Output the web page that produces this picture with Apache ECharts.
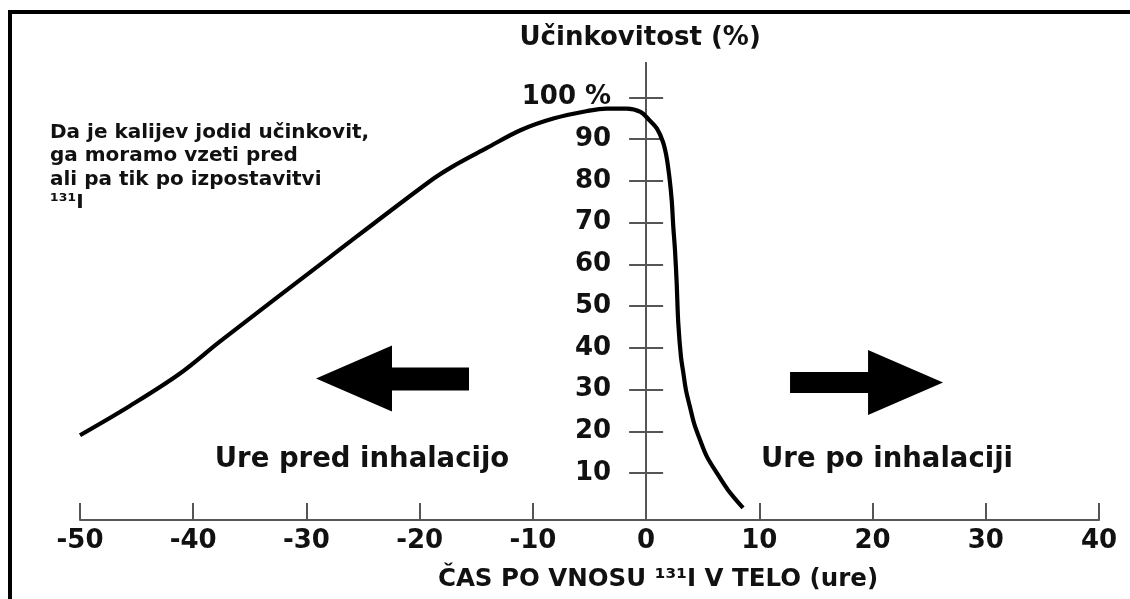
<!DOCTYPE html>
<html>
<head>
<meta charset="utf-8">
<script src="https://cdn.jsdelivr.net/npm/echarts@6/dist/echarts.min.js"></script>
<style>
html,body{margin:0;padding:0;background:#fff;}
#chart{width:1130px;height:599px;}
</style>
</head>
<body>
<div id="chart"></div>
<script>
// Data
const hours = [-50, -45.6, -41.2, -37.6, -27.9, -19.1, -17.1, -14.1, -11.1, -8.2, -5.2, -3.5, -1.7, -0.5, 0.3, 0.96, 1.49, 1.8, 2.05, 2.26, 2.4, 2.55, 2.7, 2.84, 3.08, 3.29, 3.52, 3.88, 4.23, 4.76, 5.38, 6.24, 7.23, 8.56];
const effectiveness = [19.1, 26.1, 33.8, 41.6, 61.8, 79.9, 83.4, 87.8, 92.1, 94.9, 96.7, 97.3, 97.3, 96.5, 94.5, 92.5, 89.3, 85.8, 81.0, 75.4, 69.0, 63.4, 55.5, 46.0, 37.8, 34.0, 29.9, 25.8, 22.0, 18.0, 13.9, 10.1, 6.0, 1.7];
const yTickValues = [10, 20, 30, 40, 50, 60, 70, 80, 90, 100];
const xTickValues = [-50, -40, -30, -20, -10, 0, 10, 20, 30, 40];
const yTitle = 'Učinkovitost (%)';
const xTitle = 'ČAS PO VNOSU ¹³¹I V TELO (ure)';
const noteText = 'Da je kalijev jodid učinkovit,\nga moramo vzeti pred\nali pa tik po izpostavitvi\n¹³¹I';
const beforeLabel = 'Ure pred inhalacijo';
const afterLabel = 'Ure po inhalaciji';
const arrowAnchors = [[-22.4, 32.7], [19.47, 31.7]];

const FONT = 'DejaVu Sans';
const TXT = '#111';
const AX = '#555';

const W = 1130;
const X_MIN = -50, X_MAX = 40, Y_MIN = -1.2, Y_MAX = 108.2;
const GRID = {left: 80, right: 31, top: 63, bottom: 79};
const plotW = W - GRID.left - GRID.right;
// pixel position of x = 0 inside the grid, so the y axis can sit there
const zeroX = GRID.left + (0 - X_MIN) / (X_MAX - X_MIN) * plotW;

const chart = echarts.init(document.getElementById('chart'), null, {renderer: 'canvas'});
const seriesData = hours.map((h, i) => [h, effectiveness[i]]);

const titleBase = {padding: 0};
const option = {
  animation: false,
  backgroundColor: '#fff',
  textStyle: {fontFamily: FONT},
  grid: Object.assign({containLabel: false, outerBoundsMode: 'none'}, GRID),
  title: [
    Object.assign({text: noteText, left: 50, top: 121,
     textStyle: {fontFamily: FONT, fontWeight: 'bold', fontSize: 20, lineHeight: 23.5, color: TXT}}, titleBase),
    Object.assign({text: beforeLabel, left: 362, top: 446, textAlign: 'center',
     textStyle: {fontFamily: FONT, fontWeight: 'bold', fontSize: 27.5, color: TXT}}, titleBase),
    Object.assign({text: afterLabel, left: 887, top: 446, textAlign: 'center',
     textStyle: {fontFamily: FONT, fontWeight: 'bold', fontSize: 27.5, color: TXT}}, titleBase),
    Object.assign({text: xTitle, left: 658, top: 567, textAlign: 'center',
     textStyle: {fontFamily: FONT, fontWeight: 'bold', fontSize: 24.5, color: TXT}}, titleBase)
  ],
  xAxis: {
    type: 'value', min: X_MIN, max: X_MAX, interval: 10,
    axisLine: {onZero: false, lineStyle: {color: AX, width: 2}},
    axisTick: {inside: true, length: 17, lineStyle: {color: AX, width: 2}},
    axisLabel: {margin: 8, fontFamily: FONT, fontWeight: 'bold', fontSize: 26, color: TXT,
                customValues: xTickValues},
    splitLine: {show: false}
  },
  yAxis: [
    {
      type: 'value', min: Y_MIN, max: Y_MAX, position: 'left',
      offset: -(zeroX - GRID.left),
      name: yTitle, nameLocation: 'end', nameGap: 12,
      nameTextStyle: {fontFamily: FONT, fontWeight: 'bold', fontSize: 26, color: TXT, align: 'center',
                      padding: [0, 12, 0, 0]},
      axisLine: {onZero: false, lineStyle: {color: AX, width: 2}},
      axisTick: {inside: false, length: 17, lineStyle: {color: AX, width: 2}, customValues: yTickValues},
      axisLabel: {margin: 35, fontFamily: FONT, fontWeight: 'bold', fontSize: 26, color: TXT,
                  customValues: yTickValues,
                  formatter: v => (v === 100 ? '100 %' : String(v))},
      splitLine: {show: false}
    },
    {
      type: 'value', min: Y_MIN, max: Y_MAX, position: 'right',
      offset: -(W - GRID.right - zeroX),
      axisLine: {onZero: false, lineStyle: {color: AX, width: 2}},
      axisTick: {inside: false, length: 17, lineStyle: {color: AX, width: 2}, customValues: yTickValues},
      axisLabel: {show: false, customValues: yTickValues},
      splitLine: {show: false}
    }
  ],
  series: [
    {
      type: 'line',
      xAxisIndex: 0, yAxisIndex: 0,
      data: seriesData,
      showSymbol: false,
      smooth: 0.35,
      lineStyle: {color: '#000', width: 4.2},
      markPoint: {
        silent: true,
        label: {show: false},
        data: [
          {coord: arrowAnchors[0], symbol: 'path://M0,33 L76,0 L76,22 L153,22 L153,45 L76,45 L76,66 Z',
           symbolSize: [153, 66], itemStyle: {color: '#000'}},
          {coord: arrowAnchors[1], symbol: 'path://M0,22 L78,22 L78,0 L153,32.5 L78,65 L78,43 L0,43 Z',
           symbolSize: [153, 65], itemStyle: {color: '#000'}}
        ]
      }
    }
  ],
  graphic: [
    {type: 'polyline', silent: true, z: 100,
     shape: {points: [[10, 599], [10, 12], [1130, 12]]},
     style: {stroke: '#000', lineWidth: 4, fill: null}}
  ]
};
chart.setOption(option);
</script>
</body>
</html>
